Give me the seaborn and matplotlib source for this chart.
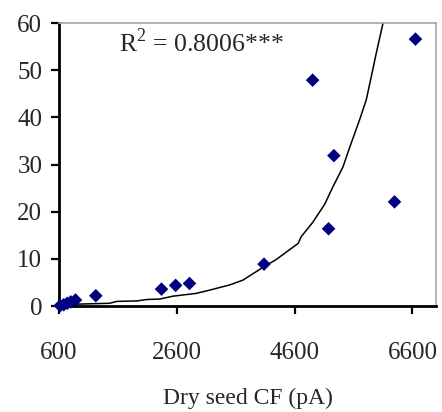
import seaborn as sns
import matplotlib.pyplot as plt
import pandas as pd

cf_pa = [620, 680, 740, 800, 880, 1225, 2340, 2580, 2815, 4080, 4905, 5176, 5266, 6295, 6651]
response = [0.1, 0.3, 0.6, 0.9, 1.3, 2.2, 3.6, 4.4, 4.8, 8.9, 47.9, 16.4, 31.9, 22.1, 56.6]

# exponential trendline as drawn in the reference
trend_x = [600, 1000, 1460, 1580, 1920, 2090, 2310, 2530, 2930, 3160, 3500, 3720,
           4060, 4290, 4540, 4660, 4710, 4910, 5110, 5250, 5420, 5530, 5700, 5815,
           5900, 5985, 6100]
trend_y = [0.3, 0.45, 0.6, 1.0, 1.1, 1.4, 1.5, 2.1, 2.7, 3.4, 4.5, 5.5,
           8.2, 9.9, 12.2, 13.3, 14.7, 17.8, 21.6, 25.3, 29.5, 33.5, 39.4, 43.7,
           48.6, 53.6, 60]

x_ticks = [600, 2600, 4600, 6600]
y_ticks = [0, 10, 20, 30, 40, 50, 60]

pts = pd.DataFrame({"cf": cf_pa, "y": response})
trend = pd.DataFrame({"cf": trend_x, "y": trend_y})

sns.set_style("ticks")
plt.rcParams["font.family"] = ["Liberation Serif", "DejaVu Serif"]
plt.rcParams["mathtext.fontset"] = "custom"
plt.rcParams["mathtext.rm"] = "Liberation Serif"

fig = plt.figure(figsize=(4.42, 4.12), dpi=100)
ax = fig.add_axes([0.1335, 0.257, 0.853, 0.687])

sns.lineplot(data=trend, x="cf", y="y", ax=ax, color="black", linewidth=1.1, sort=False)
sns.scatterplot(data=pts, x="cf", y="y", ax=ax, marker="D", s=48,
                color="#000080", edgecolor="none", zorder=3, clip_on=False)

ax.set_xlim(600, 7000)
ax.set_ylim(0, 60)
ax.set_xticks(x_ticks)
ax.set_yticks(y_ticks)
ax.tick_params(axis="both", labelsize=18, width=1.6, length=6, color="black")
ax.tick_params(axis="x", pad=20)
ax.tick_params(axis="y", pad=6)

for side in ["left", "bottom"]:
    ax.spines[side].set_color("black")
    ax.spines[side].set_linewidth(2)
for side in ["top", "right"]:
    ax.spines[side].set_visible(True)
    ax.spines[side].set_color("#a6a6a6")
    ax.spines[side].set_linewidth(1.2)

ax.set_xlabel("Dry seed CF (pA)", fontsize=17, labelpad=17)
ax.set_ylabel("")

ax.text(1620, 53.8, r"R$^\mathrm{2}$ = 0.8006***", fontsize=18.5)

fig.savefig("out.png", dpi=100)
